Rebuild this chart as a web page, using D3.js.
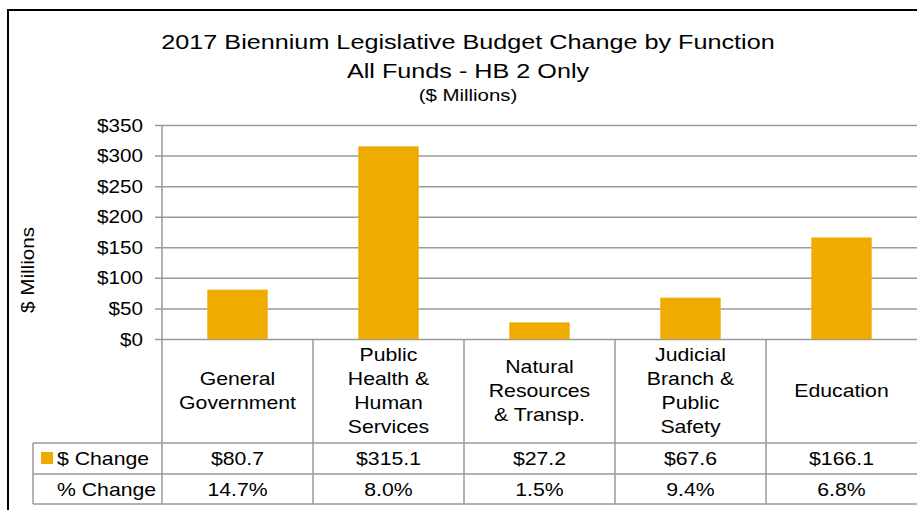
<!DOCTYPE html>
<html>
<head>
<meta charset="utf-8">
<script src="https://cdn.jsdelivr.net/npm/d3@7"></script>
<style>
  html, body { margin: 0; padding: 0; background: #fff; }
  svg { display: block; font-family: "Liberation Sans", Arial, sans-serif; }
</style>
</head>
<body>
<svg id="chart" width="917" height="510"></svg>
<script>
// Budget change by function, 2017 biennium (HB 2, all funds)
const categories = [
  ["General", "Government"],
  ["Public", "Health &", "Human", "Services"],
  ["Natural", "Resources", "& Transp."],
  ["Judicial", "Branch &", "Public", "Safety"],
  ["Education"]
];
const dollarChange = [80.7, 315.1, 27.2, 67.6, 166.1];
const pctChange = [14.7, 8.0, 1.5, 9.4, 6.8];
const yTicks = [0, 50, 100, 150, 200, 250, 300, 350];
const rowLabels = ["$ Change", "% Change"];
const titleLines = ["2017 Biennium Legislative Budget Change by Function", "All Funds - HB 2 Only"];
const subtitle = "($ Millions)";
const yLabel = "$ Millions";

const svg = d3.select("#chart");
const BAR = "#F0AB00";
const GRID = "#9a9a9a";
const SX = 1.18; // text stretch along the baseline

const plot = { left: 162, right: 917, top: 125, bottom: 339 };
const table = { left: 33, catBottom: 443, row1Bottom: 474, row2Bottom: 504 };

const idx = d3.range(categories.length);
const xCol = d3.scaleBand().domain(idx).range([plot.left, plot.right]).padding(0);
const xBar = d3.scaleBand().domain(idx).range([plot.left, plot.right])
  .paddingInner(0.6).paddingOuter(0.3);
const y = d3.scaleLinear().domain([0, 350]).range([plot.bottom, plot.top]);

// text helper: places a label stretched along its baseline
function label(parent, x, yy, str, size, anchor, rot, sx) {
  const g = parent.append("g")
    .attr("transform", `translate(${x},${yy})` + (rot ? ` rotate(${rot})` : "") + ` scale(${sx || SX},1)`);
  g.append("text")
    .attr("text-anchor", anchor || "middle")
    .attr("font-size", size)
    .attr("fill", "#000")
    .text(str);
  return g;
}

// outer frame
svg.append("rect")
  .attr("x", 8).attr("y", 10).attr("width", 940).attr("height", 520)
  .attr("fill", "none").attr("stroke", "#000").attr("stroke-width", 2);

// titles
label(svg, 468, 49, titleLines[0], 21, "middle", 0, 1.2);
label(svg, 468, 78, titleLines[1], 21, "middle", 0, 1.2);
label(svg, 468, 101, subtitle, 17.3);

// y-axis label
label(svg, 34, 270, yLabel, 17.5, "middle", -90);

// gridlines + y axis ticks
const yAxis = d3.axisLeft(y).tickValues(yTicks).tickFormat(() => "");
const ga = svg.append("g").call(yAxis);
ga.select(".domain").remove();
ga.selectAll(".tick line")
  .attr("x1", plot.left - 7).attr("x2", plot.right)
  .attr("stroke", GRID).attr("stroke-width", 1.5);

svg.append("line")
  .attr("x1", plot.left).attr("x2", plot.left)
  .attr("y1", plot.top).attr("y2", table.row2Bottom)
  .attr("stroke", GRID).attr("stroke-width", 1.5);

yTicks.forEach(t => label(svg, 143, y(t) + 6.5, "$" + t, 17.5, "end"));

// bars
svg.append("g").selectAll("rect").data(dollarChange).join("rect")
  .attr("x", (d, i) => xBar(i))
  .attr("width", xBar.bandwidth())
  .attr("y", d => y(d))
  .attr("height", d => y(0) - y(d))
  .attr("fill", BAR);

// data table grid
const tg = svg.append("g").attr("stroke", GRID).attr("stroke-width", 1.5);
[table.catBottom, table.row1Bottom, table.row2Bottom].forEach(v =>
  tg.append("line").attr("x1", table.left).attr("x2", plot.right).attr("y1", v).attr("y2", v));
tg.append("line").attr("x1", table.left).attr("x2", table.left)
  .attr("y1", table.catBottom).attr("y2", table.row2Bottom);
idx.slice(1).forEach(i =>
  tg.append("line").attr("x1", xCol(i)).attr("x2", xCol(i))
    .attr("y1", plot.bottom).attr("y2", table.row2Bottom));

// category labels
const lineH = 24;
categories.forEach((lines, i) => {
  const cx = xCol(i) + xCol.bandwidth() / 2;
  const y0 = 397 - (lines.length - 1) * lineH / 2;
  lines.forEach((s, k) => label(svg, cx, y0 + k * lineH, s, 18));
});

// table rows
svg.append("rect").attr("x", 41).attr("y", 452).attr("width", 12).attr("height", 12).attr("fill", BAR);
label(svg, 57, 465, rowLabels[0], 18, "start");
label(svg, 57, 495.5, rowLabels[1], 18, "start");
dollarChange.forEach((v, i) =>
  label(svg, xCol(i) + xCol.bandwidth() / 2, 465, "$" + v.toFixed(1), 18));
pctChange.forEach((v, i) =>
  label(svg, xCol(i) + xCol.bandwidth() / 2, 495.5, v.toFixed(1) + "%", 18));
</script>
</body>
</html>
